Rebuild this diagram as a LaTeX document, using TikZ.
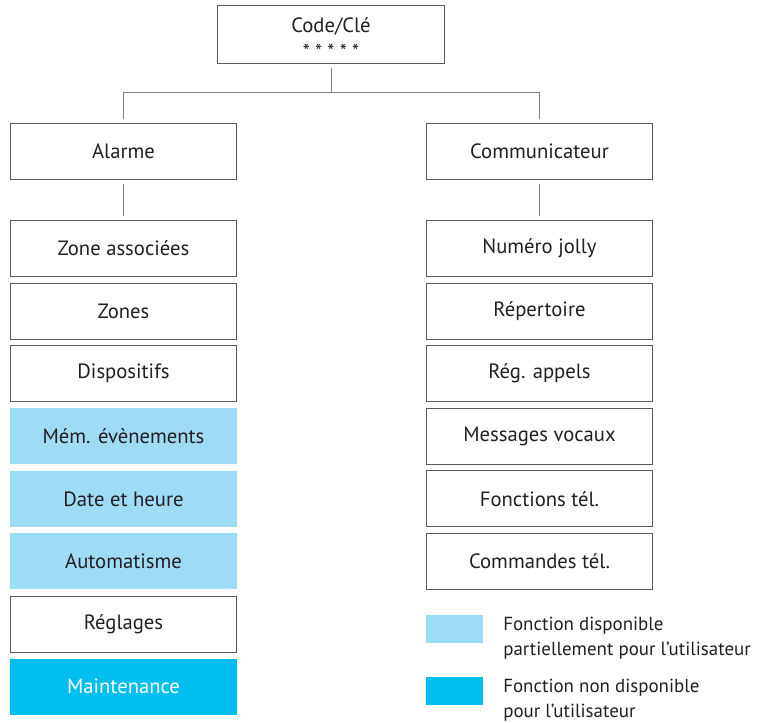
\documentclass[tikz,border=0pt]{standalone}
\usepackage{fontspec}
\setmainfont{PT Sans}
\usepackage{xcolor}
\usepackage{tikz}
\usetikzlibrary{positioning}
\definecolor{menuline}{HTML}{5a5a5a}
\definecolor{menulink}{HTML}{808080}
\definecolor{menutext}{HTML}{231f20}
\definecolor{partfill}{HTML}{9edcf6}
\definecolor{nonefill}{HTML}{00bef0}

\begin{document}
\begin{tikzpicture}[x=0.75pt, y=-0.75pt,
    node distance=4.2pt,
    font=\fontsize{15.5}{18}\selectfont, text=menutext,
    box/.style={draw=menuline, line width=0.75pt, minimum width=170pt,
      minimum height=42pt, inner sep=0pt, align=center},
    part/.style={box, draw=none, fill=partfill},
    none/.style={box, draw=none, fill=nonefill, text=white},
    link/.style={draw=menulink, line width=0.75pt},
    swatch/.style={fill=#1, minimum width=42.75pt, minimum height=21pt, inner sep=0pt},
    legtext/.style={anchor=west, align=left, inner sep=0pt,
      font=\fontsize{14.2}{18.75}\selectfont}]
\useasboundingbox (0,0) rectangle (765,723);

% --- Top ---
\node[box, minimum height=43pt](code) at (331,34.5){%
  Code/Clé\\[-4pt]{\fontsize{15}{15}\selectfont\smash{\raisebox{-5.75pt}{* * * * *}}}};
\coordinate (bar) at (331,93);

% --- Alarme column ---
\node[box](alarme) at (123.5,151.5){Alarme};
\node[box, below=30pt of alarme](zass){Zone associées};
\node[box, below=of zass](zones){Zones};
\node[box, below=of zones](disp){Dispositifs};
\node[part, below=of disp](mem){Mém. évènements};
\node[part, below=of mem](date){Date et heure};
\node[part, below=of date](auto){Automatisme};
\node[box, below=of auto](regl){Réglages};
\node[none, below=of regl](maint){Maintenance};

% --- Communicateur column ---
\node[box](comm) at (539.5,151.5){Communicateur};
\node[box, below=30pt of comm](jolly){Numéro jolly};
\node[box, below=of jolly](rep){Répertoire};
\node[box, below=of rep](appels){Rég. appels};
\node[box, below=of appels](voc){Messages vocaux};
\node[box, below=of voc](fonct){Fonctions tél.};
\node[box, below=of fonct](cmd){Commandes tél.};

% --- Links ---
\draw[link, shorten <=3pt](code.south) -- (bar);
\draw[link, shorten >=3pt](bar) -| (alarme.north);
\draw[link, shorten >=3pt](bar) -| (comm.north);
\draw[link, shorten <=3pt, shorten >=3pt](alarme.south) -- (zass.north);
\draw[link, shorten <=3pt, shorten >=3pt](comm.south) -- (jolly.north);

% --- Legend ---
\node[swatch=partfill](legpart) at (454.5,629){};
\node[swatch=nonefill](legnone) at (454.5,691){};
\node[legtext](legparttxt) at (503,638.5){Fonction disponible\\partiellement pour l’utilisateur};
\node[legtext](legnonetxt) at (503,700){Fonction non disponible\\pour l’utilisateur};
\end{tikzpicture}
\end{document}
